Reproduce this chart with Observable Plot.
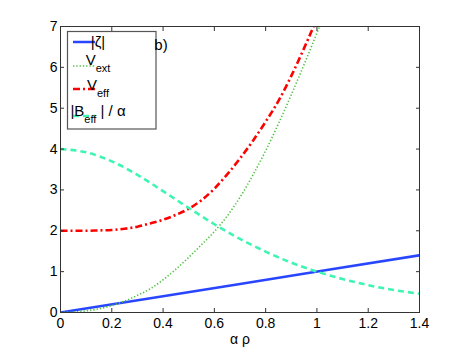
<!DOCTYPE html>
<html><head><meta charset="utf-8">
<script src="https://cdn.jsdelivr.net/npm/d3@7"></script>
<script src="https://cdn.jsdelivr.net/npm/@observablehq/plot@0.6"></script>
<style>
html,body{margin:0;padding:0;background:#fff;}
#chart{width:463px;height:351px;}
</style></head><body><div id="chart"></div>
<script>
// ---- data ----
const xTicks = [0, 0.2, 0.4, 0.6, 0.8, 1, 1.2, 1.4];
const yTicks = [0, 1, 2, 3, 4, 5, 6, 7];

const rhoZeta = [0, 0.7, 1.4];
const zetaVals = [0, 0.7, 1.4];

const rhoExt = [0,0.05,0.1,0.15,0.2,0.25,0.3,0.35,0.4,0.45,0.5,0.55,0.6,0.65,0.7,0.75,0.8,0.85,0.9,0.95,1.0,1.05];
const vExt   = [0,0.01,0.04,0.09,0.17,0.28,0.42,0.58,0.80,1.06,1.35,1.66,1.98,2.36,2.82,3.36,3.96,4.62,5.33,6.07,6.84,7.62];

const rhoEff = [0,0.05,0.1,0.15,0.2,0.25,0.3,0.35,0.4,0.45,0.5,0.55,0.6,0.65,0.7,0.75,0.8,0.85,0.9,0.95,1.0,1.05];
const vEff   = [2.00,2.00,2.00,2.01,2.02,2.05,2.10,2.18,2.27,2.39,2.54,2.75,3.03,3.38,3.77,4.20,4.67,5.18,5.79,6.47,7.20,8.00];

const rhoB = [0,0.1,0.2,0.3,0.4,0.5,0.6,0.7,0.8,0.9,1.0,1.1,1.2,1.3,1.4];
const vB   = [4.00,3.92,3.70,3.37,2.97,2.56,2.16,1.80,1.49,1.22,1.00,0.82,0.67,0.55,0.46];

const seriesNames = ["|ζ|", "V_ext", "V_eff", "|B_eff| / α"];
const colors = ["#2846ff", "#4fc23f", "#ff0000", "#3ff5b2"];
const widths = [2.5, 1.6, 2.6, 2.6];
const dashes = ["none", "1.3,2", "7,3,2,3", "6,4"];

const toRows = (xs, ys) => xs.map((x, i) => ({x, y: ys[i]}));
const lines = [toRows(rhoZeta, zetaVals), toRows(rhoExt, vExt), toRows(rhoEff, vEff), toRows(rhoB, vB)];

const font = "'Liberation Sans', Arial, Helvetica, sans-serif";
const fmt = d => String(d);

const chart = Plot.plot({
  width: 463, height: 351,
  marginLeft: 60, marginRight: 44, marginTop: 26, marginBottom: 39,
  style: {fontFamily: font, fontSize: "14px", background: "white", color: "#000", overflow: "visible"},
  x: {domain: [0, 1.4], label: null},
  y: {domain: [0, 7], label: null},
  marks: [
    ...lines.map((data, i) => Plot.line(data, {
      x: "x", y: "y", stroke: colors[i], strokeWidth: widths[i],
      strokeDasharray: dashes[i], strokeLinecap: "butt", curve: "monotone-x", clip: true
    })),
    Plot.frame({stroke: "#333", strokeWidth: 1}),
    Plot.axisX({ticks: xTicks, anchor: "bottom", tickSize: -4, tickPadding: 10, tickFormat: fmt, stroke: "#333", label: null}),
    Plot.axisX({ticks: xTicks, anchor: "top", tickSize: -4, tickFormat: () => "", stroke: "#333", label: null}),
    Plot.axisY({ticks: yTicks, anchor: "left", tickSize: -4, tickPadding: 7, tickFormat: fmt, stroke: "#333", label: null}),
    Plot.axisY({ticks: yTicks, anchor: "right", tickSize: -4, tickFormat: () => "", stroke: "#333", label: null}),
    Plot.text(["α ρ"], {frameAnchor: "bottom", dy: 31, fontSize: 14, fill: "#000"})
  ]
});
document.getElementById("chart").appendChild(chart);

// ---- legend (inside axes, top-left) ----
const svg = d3.select(chart.tagName.toLowerCase() === "svg" ? chart : chart.querySelector("svg"));
const lg = svg.append("g").attr("font-family", font).attr("font-size", 15).attr("fill", "#000")
  .style("white-space", "pre");
lg.append("rect").attr("x", 67.5).attr("y", 31.5).attr("width", 88.5).attr("height", 97.5)
  .attr("fill", "white").attr("stroke", "#555").attr("stroke-width", 1.2);
const rowY = [42, 66, 89, 116];
const baseY = [47, 65, 90, 116];
seriesNames.forEach((name, i) => {
  lg.append("line").attr("x1", 73).attr("x2", 95).attr("y1", rowY[i]).attr("y2", rowY[i])
    .attr("stroke", colors[i]).attr("stroke-width", widths[i])
    .attr("stroke-dasharray", dashes[i]);
  const t = lg.append("text").attr("x", 98).attr("y", baseY[i]);
  const m = name.match(/^(.*?)_([a-z]+)(.*)$/);
  if (!m) { t.text(name); }
  else {
    t.append("tspan").text(m[1]);
    t.append("tspan").attr("font-size", 11).attr("dy", 7).text(m[2]);
    if (m[3]) t.append("tspan").attr("dy", -7).text(" " + m[3].trim());
  }
});
lg.append("text").attr("x", 161).attr("y", 50).attr("font-size", 15).text("b)");
</script>
</body></html>
